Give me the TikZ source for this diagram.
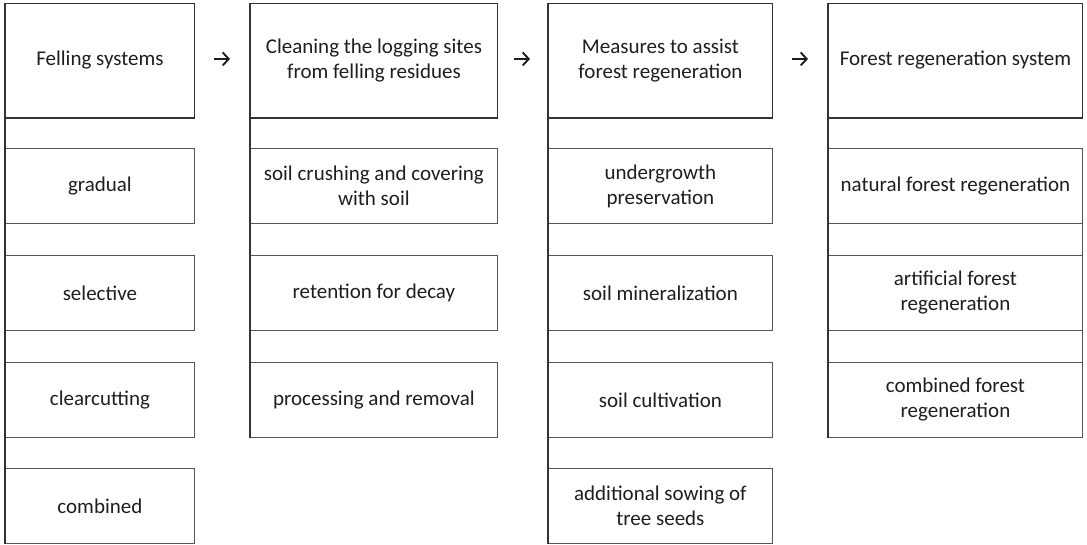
\documentclass[tikz,border=0pt]{standalone}
\usepackage{fontspec}
\setmainfont{Carlito}
\usetikzlibrary{arrows.meta}
\definecolor{txt}{HTML}{1E1E1E}
\definecolor{edge}{HTML}{555555}
\definecolor{rule}{HTML}{333333}
\begin{document}
\begin{tikzpicture}[x=1pt,y=-1pt,
  every node/.style={font=\fontsize{21}{25}\selectfont, text=txt, align=center, inner sep=0pt, anchor=north west},
  headbox/.style={draw=rule, line width=0.9pt, minimum height=114pt},
  itembox/.style={draw=edge, line width=0.8pt, minimum height=75pt},
  vrule/.style={draw=rule, line width=1.4pt},
  hrule/.style={draw=rule, line width=1.5pt},
  flow/.style={draw=txt, line width=1.9pt, -{Straight Barb[length=6pt,width=13pt]}}
]
\useasboundingbox (0,0) rectangle (1087,544);
% column 1
\node[headbox, minimum width=189pt] (h1) at (5,3) {Felling systems};
\node[itembox, minimum width=189pt] (a1) at (5,148) {gradual};
\node[itembox, minimum width=189pt] (a2) at (5,255) {selective};
\node[itembox, minimum width=189pt] (a3) at (5,362) {clearcutting};
\node[itembox, minimum width=189pt] (a4) at (5,468) {combined};
% column 2
\node[headbox, minimum width=247pt] (h2) at (250,3) {Cleaning the logging sites\\from felling residues};
\node[itembox, minimum width=247pt] (b1) at (250,148) {soil crushing and covering\\with soil};
\node[itembox, minimum width=247pt] (b2) at (250,255) {retention for decay};
\node[itembox, minimum width=247pt] (b3) at (250,362) {processing and removal};
% column 3
\node[headbox, minimum width=224pt] (h3) at (548,3) {Measures to assist\\forest regeneration};
\node[itembox, minimum width=224pt] (c1) at (548,148) {undergrowth\\preservation};
\node[itembox, minimum width=224pt] (c2) at (548,255) {soil mineralization};
\node[itembox, minimum width=224pt] (c3) at (548,362) {soil cultivation};
\node[itembox, minimum width=224pt] (c4) at (548,468) {additional sowing of\\tree seeds};
% column 4
\node[headbox, minimum width=254pt] (h4) at (828,3) {Forest regeneration system};
\node[itembox, minimum width=254pt] (d1) at (828,148) {natural forest regeneration};
\node[itembox, minimum width=254pt] (d2) at (828,255) {artificial forest\\regeneration};
\node[itembox, minimum width=254pt] (d3) at (828,362) {combined forest\\regeneration};
\draw[edge, line width=0.8pt] (d1.north east) -- (d3.south east);
% header bottom rules
\foreach \h in {h1,h2,h3,h4} \draw[hrule] (\h.south west) -- (\h.south east);
% vertical rules
\draw[vrule] (h1.north west) -- (a4.south west);
\draw[vrule] (h2.north west) -- (b3.south west);
\draw[vrule] (h3.north west) -- (c4.south west);
\draw[vrule] (h4.north west) -- (d3.south west);
% arrows
\draw[flow, shorten <=19pt, shorten >=20pt] ([yshift=1.5pt]h1.east) -- ([yshift=1.5pt]h2.west);
\draw[flow, shorten <=16pt, shorten >=18pt] ([yshift=1.5pt]h2.east) -- ([yshift=1.5pt]h3.west);
\draw[flow, shorten <=19pt, shorten >=20pt] ([yshift=1.5pt]h3.east) -- ([yshift=1.5pt]h4.west);
\end{tikzpicture}
\end{document}
